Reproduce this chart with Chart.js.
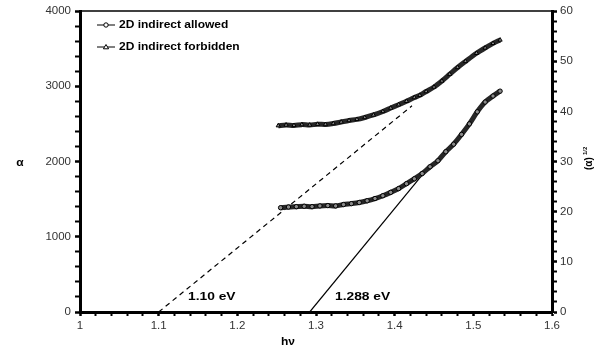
<!DOCTYPE html>
<html>
<head>
<meta charset="utf-8">
<script src="https://cdn.jsdelivr.net/npm/chart.js@4.4.1/dist/chart.umd.min.js"></script>
<style>
  html, body { margin: 0; padding: 0; background: #fff; }
  #wrap { width: 601px; height: 349px; }
</style>
</head>
<body>
<div id="wrap"><canvas id="bandChart" width="601" height="349"></canvas></div>
<script>
// hv (eV) and alpha
const allowedX = [1.255, 1.265, 1.275, 1.285, 1.295, 1.305, 1.315, 1.325, 1.335, 1.345, 1.355, 1.365, 1.375, 1.385, 1.395,
  1.405, 1.415, 1.425, 1.435, 1.445, 1.455, 1.465, 1.475, 1.485, 1.495, 1.505, 1.515, 1.525, 1.534];
const allowedY = [1386, 1395, 1400, 1405, 1400, 1410, 1414, 1410, 1428, 1440, 1455, 1478, 1508, 1545, 1590,
  1640, 1705, 1770, 1840, 1930, 2010, 2130, 2230, 2360, 2500, 2660, 2790, 2870, 2935];

const forbiddenX = [1.252, 1.262, 1.272, 1.282, 1.292, 1.302, 1.312, 1.322, 1.332, 1.342, 1.352, 1.362, 1.373, 1.385, 1.395,
  1.405, 1.415, 1.425, 1.432, 1.440, 1.450, 1.460, 1.470, 1.480, 1.490, 1.504, 1.515, 1.525, 1.534];
const forbiddenY = [2476, 2485, 2480, 2490, 2485, 2495, 2492, 2505, 2525, 2545, 2560, 2585, 2618, 2665, 2710,
  2755, 2800, 2850, 2880, 2930, 2990, 3070, 3160, 3250, 3330, 3438, 3510, 3570, 3615];

// extrapolated fits drawn in the figure
const fitForbiddenX = [1.10, 1.422];
const fitForbiddenY = [0, 2740];
const fitAllowedX = [1.292, 1.445];
const fitAllowedY = [0, 1950];

const xTickLabels = ['1', '1.1', '1.2', '1.3', '1.4', '1.5', '1.6'];
const leftTickLabels = ['0', '1000', '2000', '3000', '4000'];
const rightTickLabels = ['0', '10', '20', '30', '40', '50', '60'];

const gapLabels = ['1.10 eV', '1.288 eV'];
const seriesNames = ['2D indirect allowed', '2D indirect forbidden'];

const FONT = 'Arial, "Liberation Sans", sans-serif';
const STRETCH = 1.2; // text in the figure is wider than it is tall

function pts(xs, ys) {
  return xs.map((x, i) => ({ x: x, y: ys[i] }));
}

function isMajor(v, step) {
  const q = v / step;
  return Math.abs(q - Math.round(q)) < 1e-6;
}

function wideText(ctx, txt, x, y) {
  ctx.save();
  ctx.translate(x, y);
  ctx.scale(STRETCH, 1);
  ctx.fillText(txt, 0, 0);
  ctx.restore();
}

// extra drawing: top frame line, legend, axis titles, gap labels
const decor = {
  id: 'decor',
  afterDraw(chart) {
    const ctx = chart.ctx;
    const a = chart.chartArea;
    ctx.save();
    ctx.strokeStyle = '#000';
    ctx.lineWidth = 1.5;
    ctx.beginPath();
    ctx.moveTo(a.left, a.top);
    ctx.lineTo(a.right, a.top);
    ctx.stroke();

    // legend
    ctx.font = 'bold 10px ' + FONT;
    ctx.fillStyle = '#000';
    ctx.textBaseline = 'middle';
    const rows = [25, 47];
    rows.forEach((y, i) => {
      ctx.lineWidth = 1;
      ctx.beginPath();
      ctx.moveTo(97, y);
      ctx.lineTo(115, y);
      ctx.stroke();
      ctx.fillStyle = '#fff';
      ctx.beginPath();
      if (i === 0) {
        ctx.arc(106, y, 2.2, 0, Math.PI * 2);
      } else {
        ctx.moveTo(106, y - 2.5);
        ctx.lineTo(108.6, y + 1.8);
        ctx.lineTo(103.4, y + 1.8);
        ctx.closePath();
      }
      ctx.fill();
      ctx.stroke();
      ctx.fillStyle = '#000';
      wideText(ctx, seriesNames[i], 119, y + 0.5);
    });

    // gap labels
    ctx.font = 'bold 11.5px ' + FONT;
    ctx.textBaseline = 'alphabetic';
    wideText(ctx, gapLabels[0], 188, 300);
    wideText(ctx, gapLabels[1], 335, 300);

    // axis titles
    ctx.font = 'bold 10px ' + FONT;
    ctx.textAlign = 'center';
    wideText(ctx, 'α', 20, 166);
    wideText(ctx, 'hν', 288, 345);

    ctx.translate(592, 160);
    ctx.rotate(-Math.PI / 2);
    ctx.font = 'bold 10px ' + FONT;
    ctx.textAlign = 'left';
    ctx.fillText('(α)', -10, 0);
    ctx.font = 'bold 6px ' + FONT;
    ctx.fillText('1/2', 5, -5);
    ctx.restore();
  }
};

const tickFont = { family: FONT, size: 11.5 };

const ctx = document.getElementById('bandChart').getContext('2d');
new Chart(ctx, {
  type: 'scatter',
  data: {
    datasets: [
      {
        label: seriesNames[0],
        data: pts(allowedX, allowedY),
        showLine: true,
        borderColor: '#262626',
        borderWidth: 5,
        pointStyle: 'circle',
        pointRadius: 2.2,
        pointBorderWidth: 1,
        pointBorderColor: '#000',
        pointBackgroundColor: '#8a8a8a',
        tension: 0.3,
        yAxisID: 'y'
      },
      {
        label: seriesNames[1],
        data: pts(forbiddenX, forbiddenY),
        showLine: true,
        borderColor: '#262626',
        borderWidth: 5,
        pointStyle: 'triangle',
        pointRadius: 2.4,
        pointBorderWidth: 1,
        pointBorderColor: '#000',
        pointBackgroundColor: '#8a8a8a',
        tension: 0.3,
        yAxisID: 'y'
      },
      {
        label: 'fit forbidden',
        data: pts(fitForbiddenX, fitForbiddenY),
        showLine: true,
        borderColor: '#000',
        borderWidth: 1.2,
        borderDash: [5, 4],
        pointRadius: 0,
        yAxisID: 'y'
      },
      {
        label: 'fit allowed',
        data: pts(fitAllowedX, fitAllowedY),
        showLine: true,
        borderColor: '#000',
        borderWidth: 1.2,
        pointRadius: 0,
        yAxisID: 'y'
      }
    ]
  },
  options: {
    responsive: false,
    animation: false,
    layout: { padding: { top: 11, right: 0, left: 0, bottom: 0 } },
    plugins: {
      legend: { display: false },
      tooltip: { enabled: false }
    },
    scales: {
      x: {
        type: 'linear',
        min: 1, max: 1.6,
        afterFit(s) { s.height = 37; },
        border: { color: '#000', width: 3 },
        grid: {
          drawOnChartArea: false,
          tickLength: 4,
          tickColor: '#000',
          tickWidth: c => isMajor(c.tick.value, 0.1) ? 2.5 : 2
        },
        ticks: {
          stepSize: 0.02,
          autoSkip: false,
          maxRotation: 0,
          padding: 3,
          color: '#333',
          font: tickFont,
          callback: v => isMajor(v, 0.1) ? xTickLabels[Math.round((v - 1) * 10)] : ''
        }
      },
      y: {
        position: 'left',
        min: 0, max: 4000,
        afterFit(s) { s.width = 80; },
        border: { color: '#000', width: 3 },
        grid: {
          drawOnChartArea: false,
          tickLength: 5,
          tickColor: '#000',
          tickWidth: c => isMajor(c.tick.value, 1000) ? 2.5 : 2
        },
        ticks: {
          stepSize: 200,
          autoSkip: false,
          padding: 4,
          color: '#333',
          font: tickFont,
          callback: v => isMajor(v, 1000) ? leftTickLabels[Math.round(v / 1000)] : ''
        }
      },
      y2: {
        position: 'right',
        min: 0, max: 60,
        afterFit(s) { s.width = 49; },
        border: { color: '#000', width: 3 },
        grid: {
          drawOnChartArea: false,
          tickLength: 5,
          tickColor: '#000',
          tickWidth: c => isMajor(c.tick.value, 10) ? 2.5 : 2
        },
        ticks: {
          stepSize: 2,
          autoSkip: false,
          padding: 3,
          color: '#333',
          font: tickFont,
          callback: v => isMajor(v, 10) ? rightTickLabels[Math.round(v / 10)] : ''
        }
      }
    }
  },
  plugins: [decor]
});
</script>
</body>
</html>
